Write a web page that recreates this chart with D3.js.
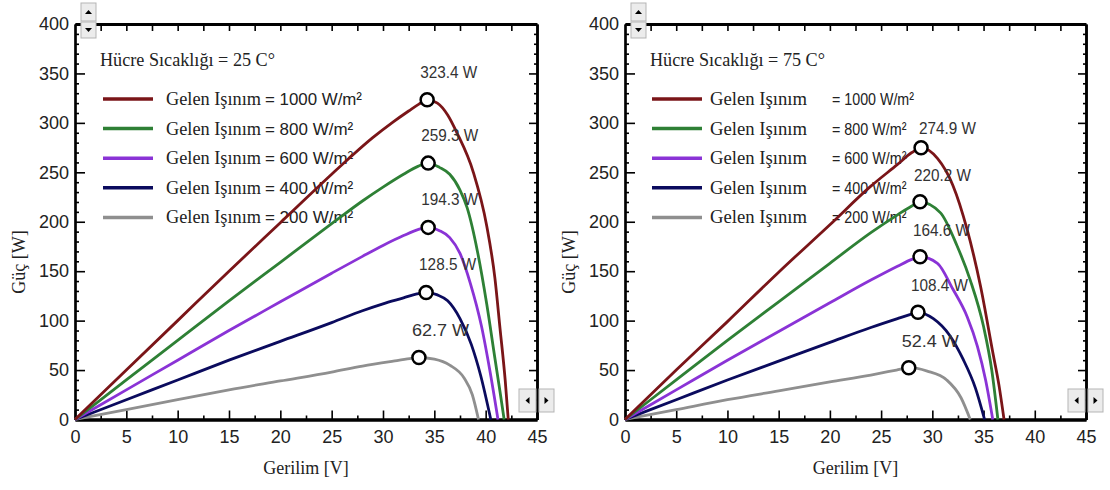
<!DOCTYPE html>
<html><head><meta charset="utf-8">
<script src="https://cdn.jsdelivr.net/npm/d3@7"></script>
<style>body{margin:0;background:#fff}</style></head>
<body><svg id="c" width="1110" height="490"></svg>
<script>
// ---------- DATA ----------
const irradiance = ["1000", "800", "600", "400", "200"];
const temps = ["25", "75"];
const xTicks = [0, 5, 10, 15, 20, 25, 30, 35, 40, 45];
const yTicks = [0, 50, 100, 150, 200, 250, 300, 350, 400];

// 25 °C
const v25_1000 = [0, 5, 10, 15, 20, 25, 27, 29, 31, 32.5, 33.5, 34.3, 35.3, 36.3, 37.2, 38.8, 40.1, 40.9, 41.4, 41.9, 42.2];
const p25_1000 = [0, 50, 100, 150, 199, 248, 267, 285, 301, 312, 319, 323.4, 320, 308, 290, 250, 196, 143, 92, 40, 0];
const v25_800 = [0, 5, 10, 15, 20, 25, 28, 30, 32, 33.4, 34.4, 35.5, 36.5, 37.5, 38.2, 39.2, 40.1, 40.9, 41.4, 41.8];
const p25_800 = [0, 40, 80, 120, 159, 198, 221, 235, 248, 256, 259.3, 255, 248, 232, 214, 170, 117, 62, 28, 0];
const v25_600 = [0, 5, 10, 15, 20, 25, 28, 30, 32, 33.4, 34.4, 35.5, 36.5, 37.5, 38.5, 39.6, 40.4, 41.2];
const p25_600 = [0, 30, 60, 90, 119, 148, 165, 176, 186, 192, 194.3, 191, 184, 168, 138, 94, 50, 0];
const v25_400 = [0, 5, 10, 15, 20, 25, 28, 30, 32, 33.3, 34.2, 35.3, 36.3, 37.5, 38.6, 39.5, 40.5];
const p25_400 = [0, 20, 40, 60, 79, 98, 110, 117, 123, 127, 128.5, 126, 120, 102, 76, 45, 0];
const v25_200 = [0, 5, 10, 15, 20, 25, 28, 31, 32.6, 33.5, 35, 36.5, 37.9, 38.7, 39.3];
const p25_200 = [0, 10, 20, 30, 39, 48, 54, 59, 61.5, 62.7, 61, 55, 42, 25, 0];

// 75 °C
const v75_1000 = [0, 5, 10, 15, 20, 24, 26.6, 28, 28.9, 30.5, 32.0, 33.4, 34.7, 35.9, 36.5, 37.0];
const p75_1000 = [0, 50, 99, 149, 197, 236, 258, 270, 274.9, 264, 237, 192, 135, 68, 35, 0];
const v75_800 = [0, 5, 10, 15, 20, 24, 26.6, 28, 28.8, 30.8, 32.4, 33.7, 35.0, 35.8, 36.4];
const p75_800 = [0, 40, 80, 119, 158, 189, 207, 216, 220.2, 209, 176, 141, 94, 50, 0];
const v75_600 = [0, 5, 10, 15, 20, 24, 26.6, 28, 28.8, 30.5, 32.0, 33.4, 34.4, 35.2, 35.9];
const p75_600 = [0, 30, 60, 89, 118, 141, 155, 162, 164.6, 158, 132, 104, 74, 40, 0];
const v75_400 = [0, 5, 10, 15, 20, 24, 26.6, 27.8, 28.6, 30.1, 31.7, 33.0, 34.2, 35.1];
const p75_400 = [0, 20, 40, 59, 78, 93, 102, 106, 108.4, 102, 85, 61, 32, 0];
const v75_200 = [0, 5, 10, 15, 20, 24, 26.5, 27.7, 29.5, 31.4, 32.8, 33.7];
const p75_200 = [0, 10, 20, 29, 38, 45, 50, 52.4, 49, 40, 22, 0];

const peak25V = [34.3, 34.4, 34.4, 34.2, 33.5];
const peak25P = [323.4, 259.3, 194.3, 128.5, 62.7];
const peak75V = [28.9, 28.8, 28.8, 28.6, 27.7];
const peak75P = [274.9, 220.2, 164.6, 108.4, 52.4];

// ---------- STYLE ----------
const colors = ["#7a1518", "#2e8035", "#8a33d6", "#0b0b5e", "#8f8f8f"];
const SANS = "'Liberation Sans', Arial, sans-serif";
const SERIF = "'Liberation Serif', 'Times New Roman', serif";

const svg = d3.select("#c");

function panel(cfg) {
  const x = d3.scaleLinear().domain([0, 45]).range([cfg.x0, cfg.x1]);
  const y = d3.scaleLinear().domain([0, 400]).range([cfg.yb, cfg.yt]);
  const g = svg.append("g");

  const styleAxis = (sel, w) => {
    sel.select(".domain").attr("stroke", "#000").attr("stroke-width", w);
    sel.selectAll(".tick line").attr("stroke", "#000").attr("stroke-width", 1.6);
    sel.selectAll("text").attr("font-family", SANS).attr("font-size", 18).attr("fill", "#222");
  };
  const minorX = d3.range(2.5, 45, 5);
  const minorY = d3.range(0, 401, 10).filter(v => v % 50 !== 0);

  g.append("g").attr("transform", `translate(0,${cfg.yb})`)
    .call(d3.axisBottom(x).tickValues(minorX).tickSize(-4).tickSizeOuter(0).tickFormat(""))
    .call(s => styleAxis(s, 3));
  g.append("g").attr("transform", `translate(0,${cfg.yb})`)
    .call(d3.axisBottom(x).tickValues(xTicks).tickSize(-9).tickSizeOuter(0).tickPadding(11))
    .call(s => styleAxis(s, 3));
  g.append("g").attr("transform", `translate(0,${cfg.yt})`)
    .call(d3.axisTop(x).tickValues(d3.range(2.5, 45, 2.5)).tickSize(-7).tickSizeOuter(0).tickFormat(""))
    .call(s => styleAxis(s, 3));
  g.append("g").attr("transform", `translate(${cfg.x0},0)`)
    .call(d3.axisLeft(y).tickValues(minorY).tickSize(-4).tickSizeOuter(0).tickFormat(""))
    .call(s => styleAxis(s, 2.2));
  g.append("g").attr("transform", `translate(${cfg.x0},0)`)
    .call(d3.axisLeft(y).tickValues(yTicks).tickSize(-10).tickSizeOuter(0).tickPadding(6))
    .call(s => styleAxis(s, 2.2));
  g.append("g").attr("transform", `translate(${cfg.x1},0)`)
    .call(d3.axisRight(y).tickValues(minorY).tickSize(-3).tickSizeOuter(0).tickFormat(""))
    .call(s => styleAxis(s, 2.5));
  g.append("g").attr("transform", `translate(${cfg.x1},0)`)
    .call(d3.axisRight(y).tickValues(yTicks.slice(1, -1)).tickSize(-8).tickSizeOuter(0).tickFormat(""))
    .call(s => styleAxis(s, 2.5));

  // axis titles
  g.append("text").attr("x", (cfg.x0 + cfg.x1) / 2).attr("y", 474)
    .attr("text-anchor", "middle").attr("font-family", SERIF).attr("font-size", 18).attr("fill", "#222")
    .text("Gerilim [V]");
  g.append("text").attr("transform", `translate(${cfg.x0 - 50},${262}) rotate(-90)`)
    .attr("text-anchor", "middle").attr("font-family", SERIF).attr("font-size", 18).attr("fill", "#222")
    .text("Güç [W]");

  // title + legend
  g.append("text").attr("x", cfg.x0 + 25).attr("y", 66)
    .attr("font-family", SERIF).attr("font-size", 18).attr("fill", "#222")
    .attr("textLength", 175).attr("lengthAdjust", "spacingAndGlyphs")
    .text(`Hücre Sıcaklığı = ${cfg.temp} C°`);
  irradiance.forEach((ir, i) => {
    const ly = 99 + i * 29.6;
    g.append("line").attr("x1", cfg.x0 + cfg.lg[0]).attr("x2", cfg.x0 + cfg.lg[0] + 50)
      .attr("y1", ly).attr("y2", ly).attr("stroke", colors[i]).attr("stroke-width", 3.5);
    g.append("text").attr("x", cfg.x0 + cfg.lg[1]).attr("y", ly + 6)
      .attr("font-family", SERIF).attr("font-size", 19).attr("fill", "#222")
      .attr("textLength", cfg.gelenLen).attr("lengthAdjust", "spacingAndGlyphs")
      .text("Gelen Işınım");
    g.append("text").attr("x", cfg.x0 + cfg.lg[2]).attr("y", ly + 6)
      .attr("font-family", SANS).attr("font-size", cfg.eqFont).attr("fill", "#222")
      .attr("textLength", cfg.eqLen * (ir.length + 7) / 11).attr("lengthAdjust", "spacingAndGlyphs")
      .text(`= ${ir} W/m²`);
  });

  // curves
  const line = d3.line().x(d => x(d[0])).y(d => y(d[1])).curve(d3.curveMonotoneX);
  for (let i = cfg.series.length - 1; i >= 0; i--) {
    const [vs, ps] = cfg.series[i];
    g.append("path").datum(vs.map((v, k) => [v, ps[k]]))
      .attr("d", line).attr("fill", "none").attr("stroke", colors[i]).attr("stroke-width", 2.8)
      .attr("stroke-linejoin", "round");
  }

  // peak markers + labels
  cfg.peakV.forEach((v, i) => {
    const p = cfg.peakP[i];
    g.append("circle").attr("cx", x(v)).attr("cy", y(p)).attr("r", 6.5)
      .attr("fill", "#fff").attr("stroke", "#000").attr("stroke-width", 2.5);
    g.append("text").attr("x", x(v) + cfg.lblDx[i]).attr("y", y(p) - cfg.lblOff[i])
      .attr("font-family", SANS).attr("font-size", 16).attr("fill", "#333")
      .attr("textLength", 57).attr("lengthAdjust", "spacingAndGlyphs")
      .text(`${p.toFixed(1)} W`);
  });

  // scroll buttons
  const btn = (bx, by, w, h, dir) => {
    g.append("rect").attr("x", bx).attr("y", by).attr("width", w).attr("height", h)
      .attr("fill", "#ececec").attr("stroke", "#b5b5b5").attr("stroke-width", 1);
    const cx = bx + w / 2, cy = by + h / 2;
    let pts;
    if (dir === "up") pts = [[cx - 3.5, cy + 2], [cx + 3.5, cy + 2], [cx, cy - 2]];
    if (dir === "down") pts = [[cx - 3.5, cy - 2], [cx + 3.5, cy - 2], [cx, cy + 2]];
    if (dir === "left") pts = [[cx + 2, cy - 3.5], [cx + 2, cy + 3.5], [cx - 2, cy]];
    if (dir === "right") pts = [[cx - 2, cy - 3.5], [cx - 2, cy + 3.5], [cx + 2, cy]];
    g.append("polygon").attr("points", pts.map(p => p.join(",")).join(" ")).attr("fill", "#000");
  };
  btn(cfg.x0 + 6, 3, 15, 18, "up");
  btn(cfg.x0 + 6, 22, 15, 16, "down");
  btn(cfg.x1 - 18, 389, 17, 23, "left");
  btn(cfg.x1 + 2, 389, 15, 23, "right");
}

panel({
  x0: 75, x1: 537, yb: 419.5, yt: 24, temp: temps[0], lg: [28, 91, 190], eqLen: 97, eqFont: 17, gelenLen: 95,
  series: [[v25_1000, p25_1000], [v25_800, p25_800], [v25_600, p25_600], [v25_400, p25_400], [v25_200, p25_200]],
  peakV: peak25V, peakP: peak25P, lblOff: [22, 22, 22, 22, 22], lblDx: [-7, -7, -7, -7, -7]
});
panel({
  x0: 625, x1: 1086, yb: 419.5, yt: 24, temp: temps[1], lg: [27, 85, 207], eqLen: 82, eqFont: 17, gelenLen: 97,
  series: [[v75_1000, p75_1000], [v75_800, p75_800], [v75_600, p75_600], [v75_400, p75_400], [v75_200, p75_200]],
  peakV: peak75V, peakP: peak75P, lblOff: [14, 21, 21, 21, 21], lblDx: [-2, -6, -7, -7, -7]
});
</script></body></html>
